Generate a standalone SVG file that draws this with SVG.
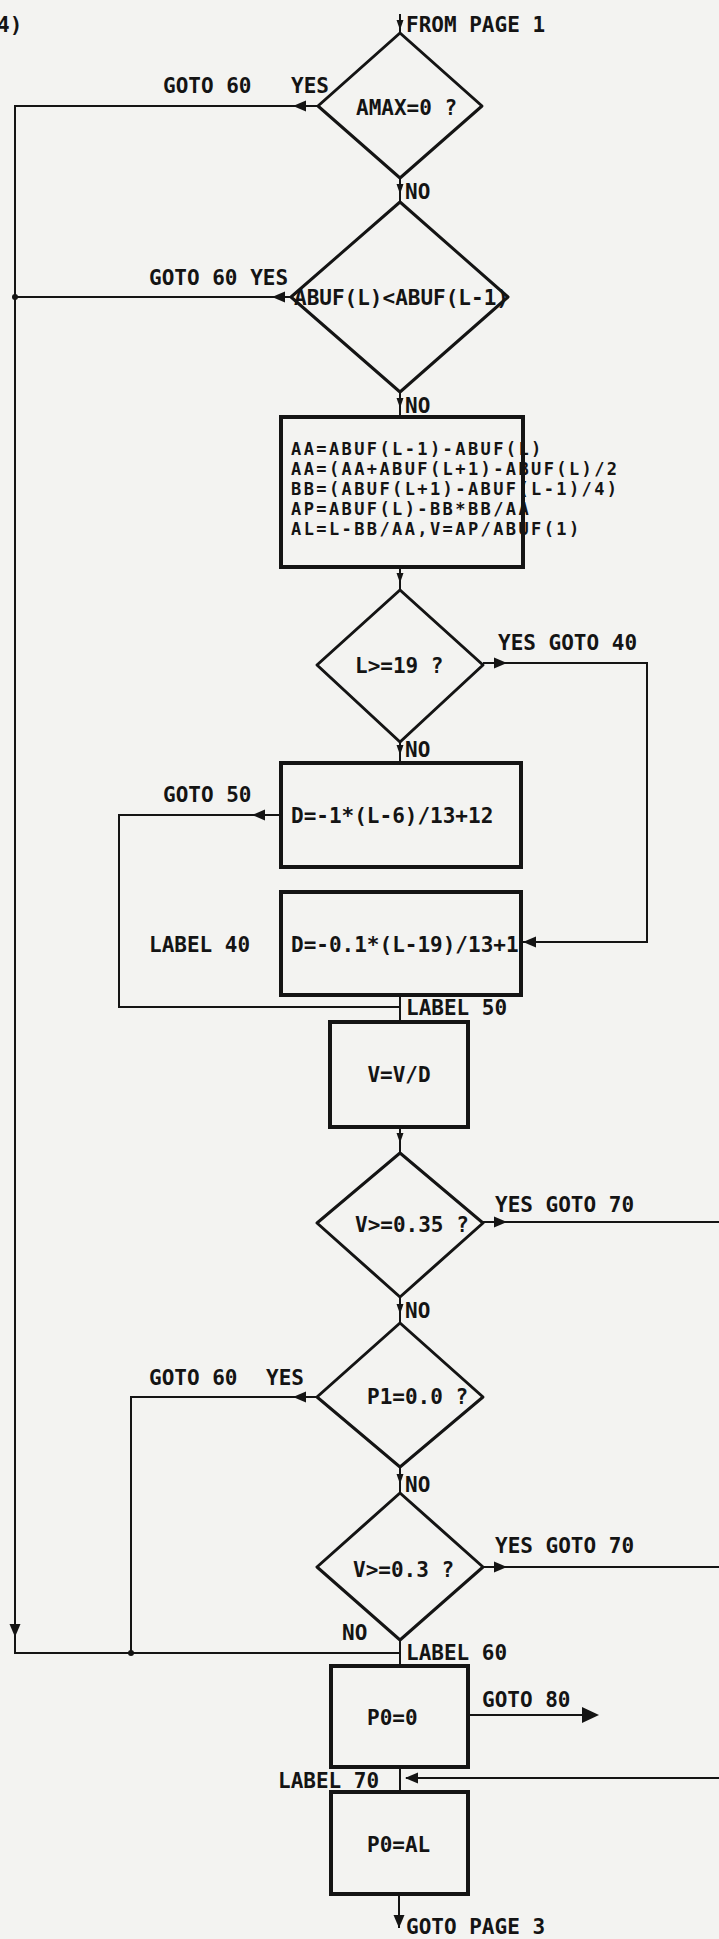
<svg xmlns="http://www.w3.org/2000/svg" xmlns:xlink="http://www.w3.org/1999/xlink" width="719" height="1939" viewBox="0 0 719 1939">
<style>
text{font-family:"DejaVu Sans Mono","Liberation Mono",monospace;font-weight:bold;font-size:21px;fill:#141414}
.sm{font-size:17px;letter-spacing:2.4px}
.dia{fill:none;stroke:#141414;stroke-width:3;stroke-linejoin:round}
.box{fill:none;stroke:#141414;stroke-width:4}
.ln{fill:none;stroke:#141414;stroke-width:2}
.ah{fill:#141414}
</style>
<defs>
<path id="ah" d="M0,0 L-13,-5.5 L-13,5.5 Z"/>
<path id="ahs" d="M0,0 L-10,-3.5 L-10,3.5 Z"/>
<path id="ahb" d="M0,0 L-17,-8 L-17,8 Z"/>
</defs>
<rect x="0" y="0" width="719" height="1939" fill="#f3f3f1"/>
<text x="-3" y="32">4)</text>

<g id="connectors">
  <!-- entry -->
  <line class="ln" x1="400" y1="14" x2="400" y2="33"/>
  <use href="#ahs" class="ah" transform="translate(400,30) rotate(90)"/>
  <!-- D1 yes -->
  <polyline class="ln" points="318,106 15,106 15,1653 400,1653"/>
  <use href="#ah" class="ah" transform="translate(293,106) rotate(180)"/>
  <use href="#ah" class="ah" transform="translate(15,1637) rotate(90)"/>
  <!-- D1 no -->
  <line class="ln" x1="400" y1="178" x2="400" y2="202"/>
  <use href="#ahs" class="ah" transform="translate(400,194) rotate(90)"/>
  <!-- D2 yes -->
  <line class="ln" x1="291" y1="297" x2="15" y2="297"/>
  <use href="#ah" class="ah" transform="translate(272,297) rotate(180)"/>
  <circle cx="15" cy="297" r="3" class="ah"/>
  <!-- D2 no -->
  <line class="ln" x1="400" y1="392" x2="400" y2="417"/>
  <use href="#ahs" class="ah" transform="translate(400,408) rotate(90)"/>
  <!-- AA box to D3 -->
  <line class="ln" x1="400" y1="567" x2="400" y2="590"/>
  <use href="#ahs" class="ah" transform="translate(400,583) rotate(90)"/>
  <!-- D3 yes -->
  <polyline class="ln" points="483,663 647,663 647,942 523,942"/>
  <use href="#ah" class="ah" transform="translate(507,663)"/>
  <use href="#ah" class="ah" transform="translate(523,942) rotate(180)"/>
  <!-- D3 no -->
  <line class="ln" x1="400" y1="742" x2="400" y2="763"/>
  <use href="#ahs" class="ah" transform="translate(400,755) rotate(90)"/>
  <!-- D1 box goto 50 -->
  <polyline class="ln" points="281,815 119,815 119,1007 400,1007"/>
  <use href="#ah" class="ah" transform="translate(252,815) rotate(180)"/>
  <line class="ln" x1="400" y1="995" x2="400" y2="1022"/>
  <!-- V box to D4 -->
  <line class="ln" x1="400" y1="1127" x2="400" y2="1153"/>
  <use href="#ahs" class="ah" transform="translate(400,1143) rotate(90)"/>
  <!-- D4 yes -->
  <line class="ln" x1="483" y1="1222" x2="719" y2="1222"/>
  <use href="#ah" class="ah" transform="translate(507,1222)"/>
  <!-- D4 no -->
  <line class="ln" x1="400" y1="1297" x2="400" y2="1323"/>
  <use href="#ahs" class="ah" transform="translate(400,1314) rotate(90)"/>
  <!-- D5 yes -->
  <polyline class="ln" points="317,1397 131,1397 131,1653"/>
  <use href="#ah" class="ah" transform="translate(293,1397) rotate(180)"/>
  <circle cx="131" cy="1653" r="3" class="ah"/>
  <!-- D5 no -->
  <line class="ln" x1="400" y1="1467" x2="400" y2="1493"/>
  <use href="#ahs" class="ah" transform="translate(400,1484) rotate(90)"/>
  <!-- D6 yes -->
  <line class="ln" x1="483" y1="1567" x2="719" y2="1567"/>
  <use href="#ah" class="ah" transform="translate(507,1567)"/>
  <!-- D6 no -->
  <line class="ln" x1="400" y1="1640" x2="400" y2="1666"/>
  <!-- P0=0 goto 80 -->
  <line class="ln" x1="468" y1="1715" x2="590" y2="1715"/>
  <use href="#ahb" class="ah" transform="translate(599,1715)"/>
  <!-- P0=0 to P0=AL, label 70 -->
  <line class="ln" x1="400" y1="1767" x2="400" y2="1792"/>
  <line class="ln" x1="719" y1="1778" x2="406" y2="1778"/>
  <use href="#ah" class="ah" transform="translate(405,1778) rotate(180)"/>
  <!-- exit -->
  <line class="ln" x1="399" y1="1894" x2="399" y2="1928"/>
  <use href="#ah" class="ah" transform="translate(399,1928) rotate(90)"/>
</g>

<text x="406" y="32">FROM PAGE 1</text>
<text x="163" y="93">GOTO 60</text>
<text x="291" y="93">YES</text>
<text x="405" y="199">NO</text>
<text x="149" y="285">GOTO 60 YES</text>
<text x="405" y="413">NO</text>
<text x="498" y="650">YES GOTO 40</text>
<text x="405" y="757">NO</text>
<text x="163" y="802">GOTO 50</text>
<text x="149" y="952">LABEL 40</text>
<text x="406" y="1015">LABEL 50</text>
<text x="495" y="1212">YES GOTO 70</text>
<text x="405" y="1318">NO</text>
<text x="149" y="1385">GOTO 60</text>
<text x="266" y="1385">YES</text>
<text x="405" y="1492">NO</text>
<text x="495" y="1553">YES GOTO 70</text>
<text x="342" y="1640">NO</text>
<text x="406" y="1660">LABEL 60</text>
<text x="482" y="1707">GOTO 80</text>
<text x="278" y="1788">LABEL 70</text>
<text x="406" y="1934">GOTO PAGE 3</text>

<g id="d1">
  <polygon class="dia" points="400,33 482,106 400,178 318,106"/>
  <text x="356" y="115">AMAX=0 ?</text>
</g>
<g id="d2">
  <polygon class="dia" points="400,202 508,297 400,392 291,297"/>
  <text x="294" y="305">ABUF(L)&lt;ABUF(L-1)</text>
</g>
<g id="b1">
  <rect class="box" x="281" y="417" width="242" height="150"/>
  <text class="sm" x="291" y="455">AA=ABUF(L-1)-ABUF(L)</text>
  <text class="sm" x="291" y="475">AA=(AA+ABUF(L+1)-ABUF(L)/2</text>
  <text class="sm" x="291" y="495">BB=(ABUF(L+1)-ABUF(L-1)/4)</text>
  <text class="sm" x="291" y="515">AP=ABUF(L)-BB*BB/AA</text>
  <text class="sm" x="291" y="535">AL=L-BB/AA,V=AP/ABUF(1)</text>
</g>
<g id="d3">
  <polygon class="dia" points="400,590 483,665 400,742 317,665"/>
  <text x="355" y="673">L&gt;=19 ?</text>
</g>
<g id="b2">
  <rect class="box" x="281" y="763" width="240" height="104"/>
  <text x="291" y="823">D=-1*(L-6)/13+12</text>
</g>
<g id="b3">
  <rect class="box" x="281" y="892" width="240" height="103"/>
  <text x="291" y="952">D=-0.1*(L-19)/13+1</text>
</g>
<g id="b4">
  <rect class="box" x="330" y="1022" width="138" height="105"/>
  <text x="399" y="1082" text-anchor="middle">V=V/D</text>
</g>
<g id="d4">
  <polygon class="dia" points="400,1153 483,1223 400,1297 317,1223"/>
  <text x="355" y="1232">V&gt;=0.35 ?</text>
</g>
<g id="d5">
  <polygon class="dia" points="400,1323 483,1397 400,1467 317,1397"/>
  <text x="367" y="1404">P1=0.0 ?</text>
</g>
<g id="d6">
  <polygon class="dia" points="400,1493 483,1567 400,1640 317,1567"/>
  <text x="353" y="1577">V&gt;=0.3 ?</text>
</g>
<g id="b5">
  <rect class="box" x="331" y="1666" width="137" height="101"/>
  <text x="367" y="1725">P0=0</text>
</g>
<g id="b6">
  <rect class="box" x="331" y="1792" width="137" height="102"/>
  <text x="367" y="1852">P0=AL</text>
</g>
</svg>
